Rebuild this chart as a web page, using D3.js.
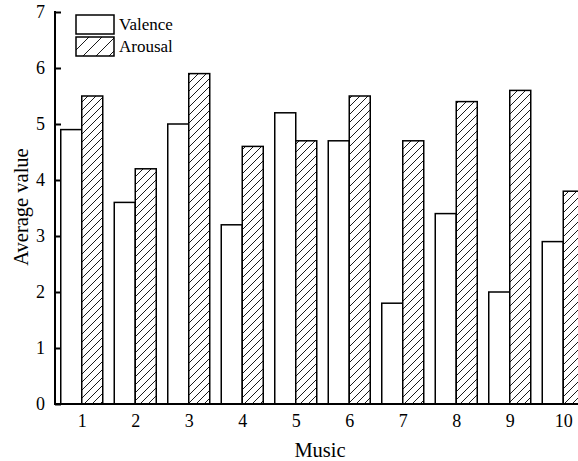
<!DOCTYPE html>
<html>
<head>
<meta charset="utf-8">
<script src="https://cdn.jsdelivr.net/npm/d3@7"></script>
<style>
  html, body { margin: 0; padding: 0; background: #fff; }
  svg { display: block; }
  text { font-family: "Liberation Serif", "Times New Roman", serif; fill: #000; }
</style>
</head>
<body>
<svg id="chart" width="578" height="461"></svg>
<script>
// Average ratings per music clip
const musics = [1, 2, 3, 4, 5, 6, 7, 8, 9, 10];
const valence = [4.9, 3.6, 5.0, 3.2, 5.2, 4.7, 1.8, 3.4, 2.0, 2.9];
const arousal = [5.5, 4.2, 5.9, 4.6, 4.7, 5.5, 4.7, 5.4, 5.6, 3.8];
const seriesNames = ["Valence", "Arousal"];
const yTicks = [0, 1, 2, 3, 4, 5, 6, 7];

const svg = d3.select("#chart");
const margin = { left: 55, top: 12, bottom: 404 };

const x = d3.scaleLinear().domain([0.5, 10.5]).range([55, 590]);
const y = d3.scaleLinear().domain([0, 7]).range([margin.bottom, margin.top]);
const barW = 21;

// Hatch patterns
const defs = svg.append("defs");
function hatch(id, size) {
  const p = defs.append("pattern")
    .attr("id", id)
    .attr("patternUnits", "userSpaceOnUse")
    .attr("width", size).attr("height", size);
  p.append("rect").attr("width", size).attr("height", size).attr("fill", "#fff");
  p.append("path")
    .attr("d", `M0,${size} L${size},0 M${-size / 2},${size / 2} L${size / 2},${-size / 2} M${size / 2},${size * 1.5} L${size * 1.5},${size / 2}`)
    .attr("stroke", "#000").attr("stroke-width", 0.9);
}
hatch("hatchBar", 8);
hatch("hatchLegend", 13);

const rows = musics.map((m, i) => ({ m, v: valence[i], a: arousal[i] }));

// Valence bars
svg.append("g").selectAll("rect").data(rows).join("rect")
  .attr("x", d => x(d.m) - barW)
  .attr("y", d => y(d.v))
  .attr("width", barW)
  .attr("height", d => y(0) - y(d.v))
  .attr("fill", "#fff")
  .attr("stroke", "#000").attr("stroke-width", 1.5);

// Arousal bars
svg.append("g").selectAll("rect").data(rows).join("rect")
  .attr("x", d => x(d.m))
  .attr("y", d => y(d.a))
  .attr("width", barW)
  .attr("height", d => y(0) - y(d.a))
  .attr("fill", "url(#hatchBar)")
  .attr("stroke", "#000").attr("stroke-width", 1.5);

// Y axis with inward ticks
const yAxis = svg.append("g")
  .attr("transform", `translate(${margin.left},0)`)
  .call(d3.axisRight(y).tickValues(yTicks).tickSize(6).tickFormat(d3.format("d")));
yAxis.select(".domain").remove();
yAxis.selectAll(".tick line").attr("stroke", "#000").attr("stroke-width", 2);
yAxis.selectAll(".tick text")
  .attr("x", -10).attr("text-anchor", "end")
  .attr("font-size", 18).attr("font-family", "Liberation Serif");
svg.append("line")
  .attr("x1", margin.left).attr("x2", margin.left)
  .attr("y1", y(7) - 1).attr("y2", y(0) + 1)
  .attr("stroke", "#000").attr("stroke-width", 2);

// X axis
const xAxis = svg.append("g")
  .attr("transform", `translate(0,${y(0)})`)
  .call(d3.axisBottom(x).tickValues(musics).tickSize(0).tickPadding(10).tickFormat(d3.format("d")));
xAxis.select(".domain").remove();
xAxis.selectAll(".tick text").attr("font-size", 18).attr("font-family", "Liberation Serif");
svg.append("line")
  .attr("x1", margin.left - 1).attr("x2", 578)
  .attr("y1", y(0)).attr("y2", y(0))
  .attr("stroke", "#000").attr("stroke-width", 2);

// Axis titles
svg.append("text")
  .attr("x", 320).attr("y", 457)
  .attr("text-anchor", "middle").attr("font-size", 20.5)
  .text("Music");
svg.append("text")
  .attr("transform", "translate(28,207) rotate(-90)")
  .attr("text-anchor", "middle").attr("font-size", 20.5)
  .text("Average value");

// Legend
const legend = svg.append("g");
const fills = ["#fff", "url(#hatchLegend)"];
seriesNames.forEach((name, i) => {
  const g = legend.append("g").attr("transform", `translate(76,${15 + i * 22})`);
  g.append("rect").attr("width", 38).attr("height", 19)
    .attr("fill", fills[i]).attr("stroke", "#000").attr("stroke-width", 1.5);
  g.append("text").attr("x", 43).attr("y", 15).attr("font-size", 17).text(name);
});
</script>
</body>
</html>
